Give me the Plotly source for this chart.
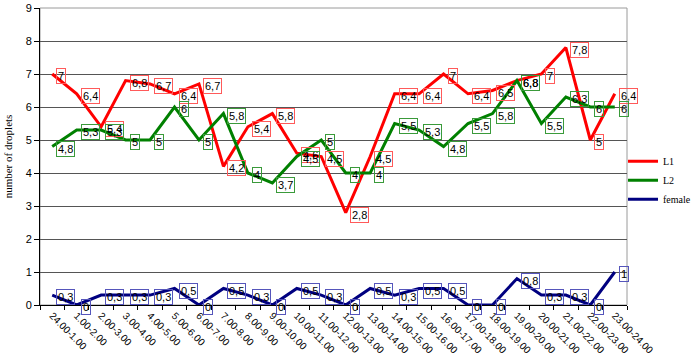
import plotly.graph_objects as go

categories = ["24.00-1.00", "1.00-2.00", "2.00-3.00", "3.00-4.00", "4.00-5.00", "5.00-6.00",
              "6.00-7.00", "7.00-8.00", "8.00-9.00", "9.00-10.00", "10.00-11.00", "11.00-12.00",
              "12.00-13.00", "13.00-14.00", "14.00-15.00", "15.00-16.00", "16.00-17.00", "17.00-18.00",
              "18.00-19.00", "19.00-20.00", "20.00-21.00", "21.00-22.00", "22.00-23.00", "23.00-24.00"]

l1 = [7, 6.4, 5.4, 6.8, 6.7, 6.4, 6.7, 4.2, 5.4, 5.8, 4.6, 4.5,
      2.8, 4.5, 6.4, 6.4, 7, 6.4, 6.5, 6.8, 7, 7.8, 5, 6.4]
l2 = [4.8, 5.3, 5.3, 5, 5, 6, 5, 5.8, 4, 3.7, 4.5, 5,
      4, 4, 5.5, 5.3, 4.8, 5.5, 5.8, 6.8, 5.5, 6.3, 6, 6]
female = [0.3, 0, 0.3, 0.3, 0.3, 0.5, 0, 0.5, 0.3, 0, 0.5, 0.3,
          0, 0.5, 0.3, 0.5, 0.5, 0, 0, 0.8, 0.3, 0.3, 0, 1]

y_ticks = list(range(0, 10))

series = [
    ("L1", l1, "#ff0000", "#ff5a5a"),
    ("L2", l2, "#008000", "#3a9a3a"),
    ("female", female, "#000080", "#5555bb"),
]

def fmt(v):
    s = ("%g" % v)
    return s.replace(".", ",")

fig = go.Figure()
annotations = []
for name, vals, col, bcol in series:
    fig.add_trace(go.Scatter(x=categories, y=vals, mode="lines", name=name,
                             line=dict(color=col, width=3)))
    for c, v in zip(categories, vals):
        annotations.append(dict(x=c, y=v, xref="x", yref="y", text=fmt(v), showarrow=False,
                                xanchor="left", yanchor="middle", xshift=4, yshift=-2,
                                bordercolor=bcol, borderwidth=1, borderpad=1,
                                font=dict(family="Liberation Sans, Arial", size=11, color="#000")))

fig.update_layout(
    width=691, height=363,
    margin=dict(l=40, r=64, t=8, b=58, autoexpand=False),
    paper_bgcolor="white", plot_bgcolor="white",
    showlegend=True,
    legend=dict(x=0.9932, y=0.533, xanchor="left", yanchor="top",
                font=dict(family="Liberation Serif, Times New Roman", size=10, color="#000"),
                bgcolor="rgba(0,0,0,0)", itemwidth=30, tracegroupgap=0),
    annotations=annotations,
    shapes=[dict(type="rect", xref="paper", yref="paper", x0=0, x1=1, y0=0, y1=1,
                 line=dict(color="#9a9a9a", width=1), layer="below")],
)

fig.update_xaxes(type="category", range=[-0.5, 23.5], tickangle=45, automargin=False,
                 showline=True, linecolor="#000", linewidth=1,
                 ticks="outside", ticklen=4, tickcolor="#000", tickson="boundaries",
                 showgrid=False,
                 tickfont=dict(family="Liberation Sans, Arial", size=10, color="#000"))
fig.update_yaxes(range=[0, 9], tickvals=y_ticks, ticktext=[str(t) for t in y_ticks], automargin=False,
                 showline=True, linecolor="#000", linewidth=1,
                 ticks="outside", ticklen=5, tickcolor="#000",
                 showgrid=True, gridcolor="#555", gridwidth=1,
                 zeroline=False,
                 tickfont=dict(family="Liberation Sans, Arial", size=11, color="#000"),
                 title=dict(text="number of droplets", standoff=10,
                            font=dict(family="Liberation Serif, Times New Roman", size=11, color="#000")))

fig.write_html("out.html", config={"displayModeBar": False},
               post_script="document.body.style.margin='0px';"
                           "document.documentElement.style.overflow='hidden';")
